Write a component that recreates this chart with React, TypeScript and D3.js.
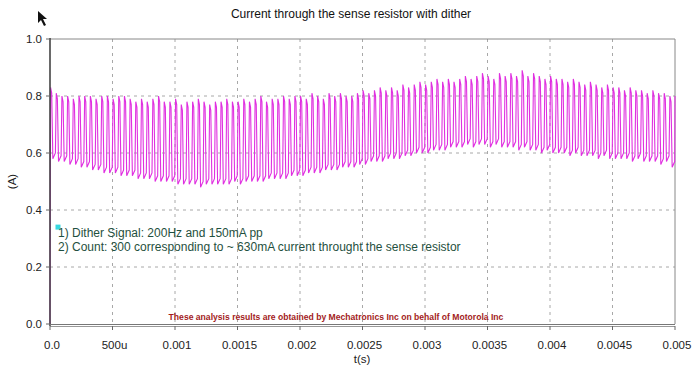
import React from 'react'
import * as d3 from 'd3'

// peak / trough of each switching cycle (A)
const peaks = [
  0.83, 0.81, 0.80, 0.80, 0.79, 0.80, 0.80, 0.80, 0.79, 0.80,
  0.80, 0.79, 0.80, 0.80, 0.79, 0.78, 0.79, 0.78, 0.79, 0.80,
  0.78, 0.78, 0.79, 0.77, 0.78, 0.78, 0.79, 0.78, 0.77, 0.78,
  0.78, 0.79, 0.78, 0.78, 0.79, 0.78, 0.79, 0.80, 0.78, 0.79,
  0.79, 0.80, 0.79, 0.80, 0.80, 0.79, 0.81, 0.80, 0.79, 0.81,
  0.80, 0.81, 0.80, 0.80, 0.81, 0.82, 0.81, 0.82, 0.83, 0.82,
  0.83, 0.82, 0.84, 0.83, 0.84, 0.85, 0.84, 0.85, 0.86, 0.85,
  0.86, 0.85, 0.86, 0.87, 0.86, 0.87, 0.88, 0.87, 0.86, 0.88,
  0.87, 0.88, 0.87, 0.89, 0.87, 0.88, 0.87, 0.86, 0.87, 0.86,
  0.86, 0.85, 0.86, 0.85, 0.84, 0.85, 0.84, 0.83, 0.84, 0.83,
  0.83, 0.82, 0.83, 0.82, 0.82, 0.81, 0.82, 0.81, 0.81, 0.80
]

const troughs = [
  0.58, 0.57, 0.57, 0.56, 0.56, 0.55, 0.55, 0.54, 0.54, 0.53,
  0.53, 0.53, 0.52, 0.52, 0.52, 0.51, 0.51, 0.51, 0.50, 0.50,
  0.50, 0.50, 0.49, 0.49, 0.49, 0.49, 0.48, 0.49, 0.49, 0.49,
  0.49, 0.49, 0.50, 0.49, 0.50, 0.50, 0.50, 0.50, 0.51, 0.51,
  0.51, 0.51, 0.52, 0.52, 0.52, 0.53, 0.53, 0.53, 0.54, 0.54,
  0.54, 0.55, 0.55, 0.55, 0.56, 0.56, 0.57, 0.57, 0.57, 0.58,
  0.58, 0.58, 0.59, 0.59, 0.60, 0.60, 0.60, 0.61, 0.61, 0.61,
  0.62, 0.62, 0.62, 0.63, 0.62, 0.63, 0.63, 0.62, 0.63, 0.62,
  0.62, 0.62, 0.61, 0.62, 0.61, 0.61, 0.60, 0.61, 0.60, 0.60,
  0.60, 0.59, 0.60, 0.59, 0.59, 0.59, 0.58, 0.59, 0.58, 0.58,
  0.58, 0.58, 0.57, 0.58, 0.57, 0.57, 0.57, 0.56, 0.57, 0.55
]

const xTicks = [0, 0.0005, 0.001, 0.0015, 0.002, 0.0025, 0.003, 0.0035, 0.004, 0.0045, 0.005]
const xTickLabels = ['0.0', '500u', '0.001', '0.0015', '0.002', '0.0025', '0.003', '0.0035', '0.004', '0.0045', '0.005']
const yTicks = [0, 0.2, 0.4, 0.6, 0.8, 1.0]
const yTickLabels = ['0.0', '0.2', '0.4', '0.6', '0.8', '1.0']

const notes = [
  '1) Dither Signal: 200Hz and 150mA pp',
  '2) Count: 300 corresponding to ~ 630mA current throught the sense resistor'
]
const marker = { t: 0.000064, v: 0.34 }

const W = 700
const H = 367
const margin = { top: 39, right: 25, bottom: 43, left: 50 }
const font = '"Liberation Sans", Arial, sans-serif'

export default function App() {
  const x = d3.scaleLinear().domain([0, 0.005]).range([margin.left, W - margin.right])
  const y = d3.scaleLinear().domain([0, 1]).range([H - margin.bottom, margin.top])

  // each cycle: steep rise to the peak, steep fall back, short dwell at the trough
  const period = 0.005 / peaks.length
  const pts: [number, number][] = [[0, 0]]
  peaks.forEach((p, i) => {
    const t0 = i * period
    pts.push([t0 + period * 0.1, p])
    pts.push([t0 + period * 0.3, p - 0.02])
    pts.push([t0 + period * 0.5, troughs[i]])
    pts.push([t0 + period * 0.95, troughs[i] + 0.02])
  })
  pts.push([0.005, peaks[peaks.length - 1]])

  const line = d3.line<[number, number]>()
    .x(d => x(d[0]))
    .y(d => y(d[1]))

  const x0 = x(0), x1 = x(0.005), yTop = y(1), yBot = y(0)

  return (
    <svg width={W} height={H} style={{ position: 'absolute', left: 0, top: 0, background: '#fff' }}>
      <text x={351} y={18} textAnchor="middle" fontFamily={font} fontSize={12} fill="#111">
        Current through the sense resistor with dither
      </text>

      {/* mouse pointer */}
      <path d="M38,11 L38,23 L41,20 L44,26 L46,25 L43,19 L47,19 Z" fill="#111" />

      {/* grid */}
      {xTicks.slice(1, -1).map(t => (
        <line key={'gx' + t} x1={x(t)} x2={x(t)} y1={yTop} y2={yBot} stroke="#a8a8a8" strokeDasharray="3,4" />
      ))}
      {yTicks.slice(1, -1).map(v => (
        <line key={'gy' + v} x1={x0} x2={x1} y1={y(v)} y2={y(v)} stroke="#a8a8a8" strokeDasharray="3,4" />
      ))}

      {/* frame */}
      <line x1={x0} x2={x1} y1={yTop} y2={yTop} stroke="#888" />
      <line x1={x1} x2={x1} y1={yTop} y2={yBot} stroke="#888" />

      <path d={line(pts) || ''} fill="none" stroke="#e030e0" strokeWidth={1.1} />

      <line x1={x0} x2={x0} y1={yTop - 1} y2={yBot + 2} stroke="#444" strokeWidth={1.6} />
      <line x1={x0} x2={x1} y1={yBot + 0.5} y2={yBot + 0.5} stroke="#777" />
      <line x1={x0} x2={x1} y1={yBot + 2.5} y2={yBot + 2.5} stroke="#999" />

      {xTicks.map((t, i) => (
        <g key={'xt' + t}>
          <line x1={x(t)} x2={x(t)} y1={yBot + 2} y2={yBot + 6} stroke="#666" />
          <text x={x(t) + 2} y={349} textAnchor="middle" fontFamily={font} fontSize={11.5} fill="#222">
            {xTickLabels[i]}
          </text>
        </g>
      ))}
      {yTicks.map((v, i) => (
        <g key={'yt' + v}>
          <line x1={x0 - 4} x2={x0} y1={y(v)} y2={y(v)} stroke="#666" />
          <text x={42} y={y(v) + 4} textAnchor="end" fontFamily={font} fontSize={11.5} fill="#222">
            {yTickLabels[i]}
          </text>
        </g>
      ))}

      <text x={362} y={363} textAnchor="middle" fontFamily={font} fontSize={11.5} fill="#222">t(s)</text>
      <text transform={`translate(16,${(yTop + yBot) / 2}) rotate(-90)`} textAnchor="middle"
        fontFamily={font} fontSize={11.5} fill="#222">(A)</text>

      <rect x={x(marker.t) - 2.5} y={y(marker.v) - 2.5} width={5} height={5} fill="#38d8e0" />

      {notes.map((n, i) => (
        <text key={n} x={58} y={237 + i * 14} fontFamily={font} fontSize={12} fill="#1f5040">{n}</text>
      ))}

      <text x={336} y={320} textAnchor="middle" fontFamily={font} fontSize={8.6} fontWeight="bold" fill="#a31c1c">
        These analysis results are obtained by Mechatronics Inc on behalf of Motorola Inc
      </text>
    </svg>
  )
}
